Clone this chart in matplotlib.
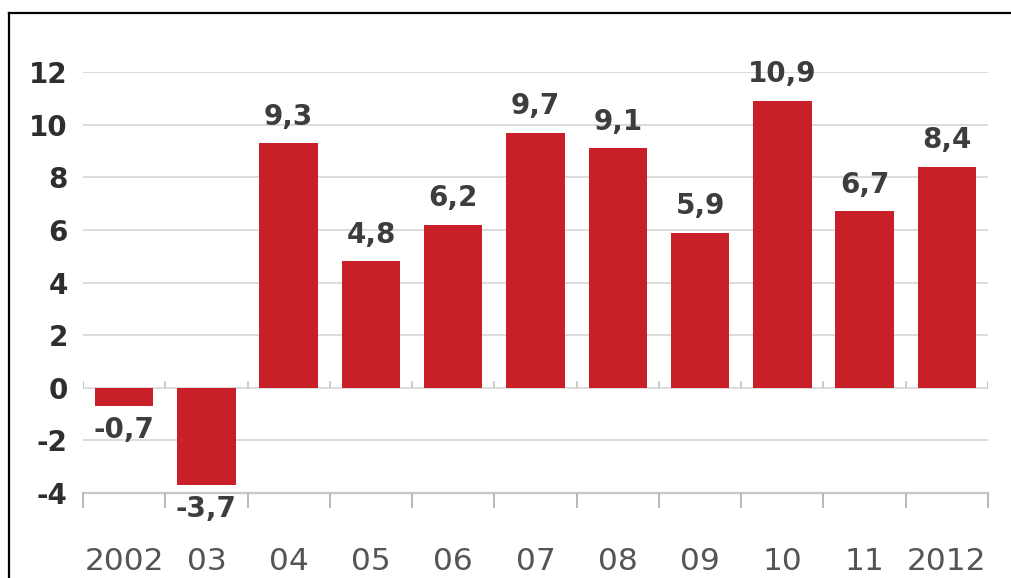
import numpy as np
import matplotlib
matplotlib.use("Agg")
import matplotlib.pyplot as plt
from matplotlib.lines import Line2D

# Datos
anios = ['2002', '03', '04', '05', '06', '07', '08', '09', '10', '11', '2012']
valores = [-0.7, -3.7, 9.3, 4.8, 6.2, 9.7, 9.1, 5.9, 10.9, 6.7, 8.4]
yticks = [-4, -2, 0, 2, 4, 6, 8, 10, 12]

rojo = '#c81f29'
gris_texto = '#3d3d3d'

fig = plt.figure(figsize=(10.12, 5.78), dpi=100)
ax = fig.add_axes([83 / 1012, 1 - 493 / 578, 905 / 1012, 421 / 578])

x = np.arange(len(valores))
ax.bar(x, valores, width=0.71, color=rojo, zorder=3)

# Etiquetas de valores
for xi, v in zip(x, valores):
    txt = f'{v:.1f}'.replace('.', ',')
    if v >= 0:
        ax.annotate(txt, (xi, v), xytext=(0, 9), textcoords='offset points',
                    ha='center', va='bottom', fontsize=20, fontweight='bold',
                    color=gris_texto, zorder=4)
    else:
        ax.annotate(txt, (xi, v), xytext=(0, -7), textcoords='offset points',
                    ha='center', va='top', fontsize=20, fontweight='bold',
                    color=gris_texto, zorder=4)

ax.set_xlim(-0.5, len(valores) - 0.5)
ax.set_ylim(yticks[0], yticks[-1])

# Rejilla horizontal
for yt in yticks[1:]:
    ax.axhline(yt, color='#dcdcdc', lw=1.4, zorder=1)
ax.axhline(yticks[0], color='#c8c8c8', lw=1.6, zorder=1, clip_on=False)

# Marcas pequeñas en la linea de cero
limites = np.arange(len(valores) + 1) - 0.5
ax.vlines(limites, 0, 0.25, color='#c4c4c4', lw=1.2, zorder=2)

for s in ax.spines.values():
    s.set_visible(False)

ax.set_yticks(yticks)
ax.set_yticklabels([str(t) for t in yticks], fontsize=20, fontweight='bold', color='#2e2e2e')
ax.tick_params(axis='y', length=0, pad=11)

ax.set_xticks(x)
ax.set_xticklabels(anios, fontsize=22.5, color='#555555')
ax.set_xticks(limites, minor=True)
ax.tick_params(axis='x', which='major', length=0, pad=39)
ax.tick_params(axis='x', which='minor', length=11, width=1.4, color='#b8b8b8')

# Marco negro
fig.add_artist(Line2D([9.5 / 1012, 9.5 / 1012], [0, 1 - 12.5 / 578], color='black', lw=1.6))
fig.add_artist(Line2D([9.5 / 1012, 1], [1 - 12.5 / 578, 1 - 12.5 / 578], color='black', lw=1.6))

fig.savefig('out.png', dpi=100)
